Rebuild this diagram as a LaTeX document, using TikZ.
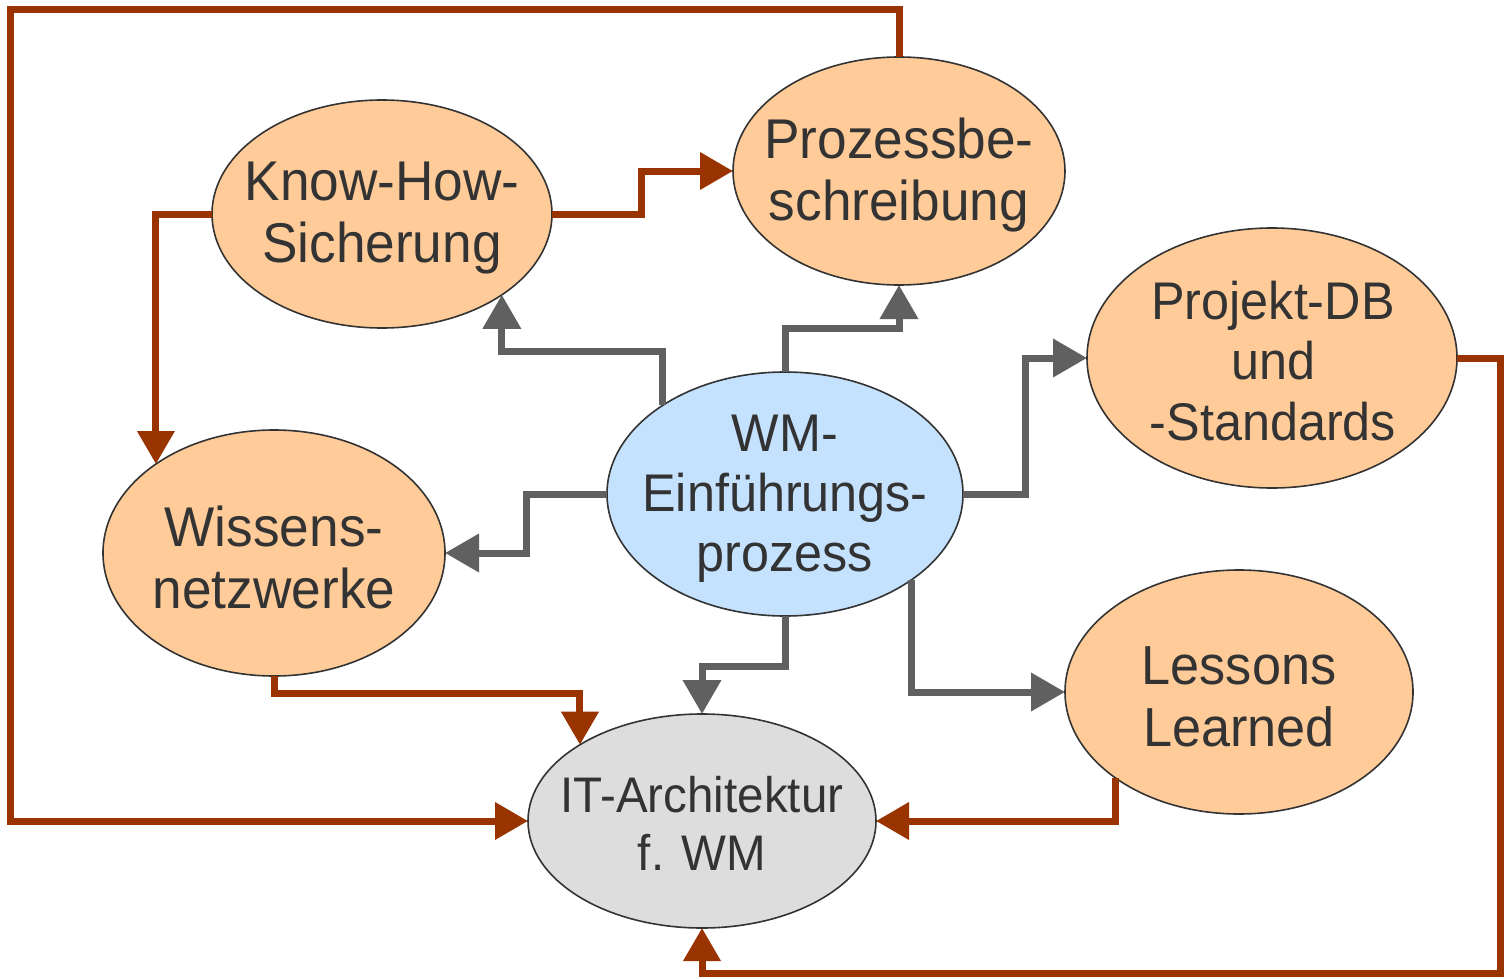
\documentclass[tikz,border=0pt]{standalone}
\usepackage{fontspec}
\setmainfont{Liberation Sans}[FakeStretch=0.95]
\usetikzlibrary{shapes.geometric,arrows.meta}
\definecolor{orfill}{HTML}{FFCC99}
\definecolor{blfill}{HTML}{C4E1FE}
\definecolor{grfill}{HTML}{DDDDDD}
\definecolor{redln}{HTML}{993300}
\definecolor{grayln}{HTML}{606060}
\definecolor{txt}{HTML}{333333}
\tikzset{
  ell/.style={ellipse, draw=txt, line width=1.6pt, inner sep=0pt, outer sep=0pt},
  orange/.style={ell, fill=orfill},
  lbl/.style={align=center, text=txt, inner sep=0pt, font=\fontsize{56}{62}\selectfont},
  rd/.style={draw=redln, line width=7pt, -{Triangle[length=33pt,width=36pt]}},
  gr/.style={draw=grayln, line width=7pt, -{Triangle[length=34pt,width=37pt]}},
}
\begin{document}
\begin{tikzpicture}[x=1pt,y=-1pt]
\useasboundingbox (0,0) rectangle (1504,979);
\node[orange, minimum width=340pt, minimum height=228pt] (kh) at (382,214) {};
\node[orange, minimum width=332pt, minimum height=228pt] (pb) at (899,171) {};
\node[orange, minimum width=370pt, minimum height=260pt] (pd) at (1272,358) {};
\node[ell, fill=blfill, minimum width=356pt, minimum height=244pt] (wm) at (785,494) {};
\node[orange, minimum width=342pt, minimum height=246pt] (wn) at (274,553) {};
\node[orange, minimum width=348pt, minimum height=244pt] (ll) at (1239,692) {};
\node[ell, fill=grfill, minimum width=348pt, minimum height=214pt] (it) at (702,821) {};
\node[lbl] (khT) at (382,218) {Know-How-\\Sicherung};
\node[lbl] (pbT) at (899,175) {Prozessbe-\\schreibung};
\node[lbl, font=\fontsize{53}{60.5}\selectfont] (pdT) at (1273,361) {Projekt-DB\\und\\-Standards};
\node[lbl, font=\fontsize{53}{60}\selectfont] (wmT) at (785,499) {WM-\\Einführungs-\\prozess};
\node[lbl] (wnT) at (274,557) {Wissens-\\netzwerke};
\node[lbl, font=\fontsize{55}{62}\selectfont] (llT) at (1239,697) {Lessons\\Learned};
\node[lbl, font=\fontsize{50}{58}\selectfont] (itT) at (702,823) {IT-Architektur\\f. WM};
\coordinate (tl) at (10,10);
\coordinate (br) at (1500,973);
% red connectors
\draw[rd] (pb.north) |- (tl) |- (it.west);
\draw[rd] (kh.east) -- ++(89,0) |- (pb.west);
\draw[rd] (kh.west) -| (wn.143.5);
\draw[rd] (wn.south) -- ++(0,17) -| (it.148);
\draw[rd] (pd.east) -| (br) -| (it.south);
\draw[rd] (ll.215.5) |- (it.east);
% gray connectors
\draw[gr] (wm.144.5) -- ++(0,-54) -| (kh.-34);
\draw[gr] (wm.north) -- ++(0,-44) -| (pb.south);
\draw[gr] (wm.west) -- ++(-81,0) |- (wn.east);
\draw[gr] (wm.east) -- ++(62,0) |- (pd.west);
\draw[gr] (wm.south) -- ++(0,50) -| (it.north);
\draw[gr] (wm.-34.3) |- (ll.west);
\end{tikzpicture}
\end{document}
